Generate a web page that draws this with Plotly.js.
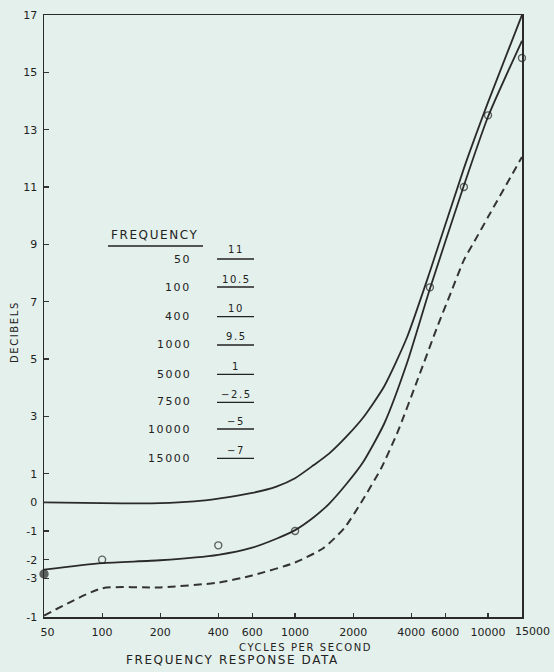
<!DOCTYPE html>
<html><head><meta charset="utf-8">
<script src="https://cdn.plot.ly/plotly-3.0.1.min.js"></script>
<style>
html,body{margin:0;padding:0;background:#e4f0eb;}
#chart{width:554px;height:672px;}
.annotation-text{letter-spacing:1.6px;}
.annotation[data-index="0"] .annotation-text{letter-spacing:0;}
</style></head><body><div id="chart"></div>
<script>
// ---- data ----
const freqUpper = [50,100,200,300,400,600,800,1000,1250,1500,1850,2250,2900,3800,5000,7500,10000,15000];
const dbUpper   = [0.0,-0.03,-0.03,0.03,0.13,0.33,0.55,0.84,1.3,1.7,2.3,2.95,4.05,5.75,8.05,11.65,13.95,17.0];

const freqLower = [50,100,200,400,600,800,1000,1250,1500,1850,2250,2900,3800,5000,7500,10000,15000];
const dbLower   = [-2.35,-2.12,-2.02,-1.83,-1.58,-1.27,-0.97,-0.52,-0.05,0.65,1.4,2.75,4.85,7.45,11.05,13.45,16.1];

const freqDashed = [50,100,200,400,600,1000,1400,1800,2250,2800,3400,4300,5500,6400,7500,8500,10000,15000];
const dbDashed   = [-3.95,-3.0,-2.97,-2.8,-2.55,-2.1,-1.6,-0.9,0.1,1.2,2.45,4.25,6.18,7.29,8.45,9.1,9.95,12.05];

const freqPoints = [50,100,400,1000,5000,7500,10000,15000];
const dbPoints   = [-2.5,-2.0,-1.5,-1.0,7.5,11.0,13.5,15.5];

const tableFreqLabels = ['50','100','400','1000','5000','7500','10000','15000'];
const tableDbLabels   = ['11','10.5','10','9.5','1','\u22122.5','\u22125','\u22127'];

const xTickVals = [50,100,200,400,600,1000,2000,4000,6000,10000,15000];
const xTickText = ['50','100','200','400','600','1000','2000','4000','6000','10000','15000'];
const yTickVals = [17,15,13,11,9,7,5,3,1,0,-1,-2,-2.66,-4];
const yTickText = ['17','15','13','11','9','7','5','3','1','0','-1','-2','-3','-1'];

// ---- layout helpers (pixel -> paper) ----
const L=44, R=522, T=15, B=617;
const PX = v => (v-L)/(R-L);
const PY = v => (B-v)/(B-T);
const FONT = 'DejaVu Sans';
const INK = '#222';

const rowFreqY = [259,287.3,316,344,375,401.7,429,458.3];
const rowValY  = [250,279,308,336.7,366.7,394,421.7,450];
const rowLineY = [259,287,316.7,345,374.3,402.3,429,458.3];

const lastTick = xTickText.length-1;
const annotations = [];
const shapes = [];
// last x tick label sits right of its tick in the reference: drawn as an annotation (index 0)
annotations.push({text:xTickText[lastTick], xref:'paper', yref:'paper', x:PX(532.5), y:PY(631), xanchor:'center', yanchor:'middle', showarrow:false, font:{family:FONT, size:11, color:INK}});
tableFreqLabels.forEach((t,i)=>{
  annotations.push({text:t, xref:'paper', yref:'paper', x:PX(193), y:PY(rowFreqY[i]), xanchor:'right', yanchor:'middle', showarrow:false, font:{family:FONT, size:11, color:INK}});
  annotations.push({text:tableDbLabels[i], xref:'paper', yref:'paper', x:PX(236), y:PY(rowValY[i]), xanchor:'center', yanchor:'middle', showarrow:false, font:{family:FONT, size:10, color:INK}});
  shapes.push({type:'line', xref:'paper', yref:'paper', x0:PX(217), x1:PX(254), y0:PY(rowLineY[i]), y1:PY(rowLineY[i]), line:{color:INK, width:1.3}});
});
annotations.push({text:'FREQUENCY', xref:'paper', yref:'paper', x:PX(109), y:PY(235), xanchor:'left', yanchor:'middle', showarrow:false, font:{family:FONT, size:12, color:INK}});
shapes.push({type:'line', xref:'paper', yref:'paper', x0:PX(108), x1:PX(203), y0:PY(246), y1:PY(246), line:{color:INK, width:1.5}});
annotations.push({text:'CYCLES PER SECOND', xref:'paper', yref:'paper', x:PX(305), y:PY(647), xanchor:'center', yanchor:'middle', showarrow:false, font:{family:FONT, size:10, color:INK}});
annotations.push({text:'FREQUENCY RESPONSE DATA', xref:'paper', yref:'paper', x:PX(232), y:PY(660), xanchor:'center', yanchor:'middle', showarrow:false, font:{family:FONT, size:12, color:INK}});
annotations.push({text:'DECIBELS', xref:'paper', yref:'paper', x:PX(15), y:PY(332), xanchor:'center', yanchor:'middle', textangle:-90, showarrow:false, font:{family:FONT, size:10, color:INK}});

const LINE = '#2a2a2a';
const traces = [
  {x:freqUpper, y:dbUpper, mode:'lines', line:{color:LINE, width:1.8, shape:'spline', smoothing:0.6}, cliponaxis:false, hoverinfo:'skip'},
  {x:freqLower, y:dbLower, mode:'lines', line:{color:LINE, width:1.8, shape:'spline', smoothing:0.6}, cliponaxis:false, hoverinfo:'skip'},
  {x:freqDashed, y:dbDashed, mode:'lines', line:{color:'#333', width:2, dash:'8px,5px', shape:'spline', smoothing:0.6}, hoverinfo:'skip'},
  {x:freqPoints, y:dbPoints, mode:'markers', cliponaxis:false,
   marker:{symbol:freqPoints.map((f,i)=> i===0 ? 'circle' : 'circle-open'), size:freqPoints.map((f,i)=> i===0 ? 8 : 7), color:INK, line:{color:INK, width:1.4}}}
];

const axisCommon = {showline:true, linecolor:'#2a2a2a', linewidth:1.5, mirror:true, showgrid:false, zeroline:false, ticks:'inside', tickcolor:'#333', tickwidth:1.2, tickfont:{family:FONT, size:11, color:INK}};

const layout = {
  width:554, height:672,
  margin:{l:L, r:554-R, t:T, b:672-B, pad:0},
  paper_bgcolor:'#e4f0eb', plot_bgcolor:'#e4f0eb',
  showlegend:false,
  xaxis: Object.assign({}, axisCommon, {type:'log', range:[Math.log10(49.98), Math.log10(15005)], tickmode:'array', tickvals:xTickVals,
    ticktext:xTickText.map((t,i)=> i===0 ? '\u00a0\u00a0'+t : (i===lastTick ? '' : t)), tickangle:0, ticklen:4, ticklabelstandoff:4}),
  yaxis: Object.assign({}, axisCommon, {range:[-4,17], tickmode:'array', tickvals:yTickVals, ticktext:yTickText, ticklen:5, ticklabelstandoff:3}),
  annotations, shapes
};

Plotly.newPlot('chart', traces, layout, {staticPlot:true, displayModeBar:false});
</script></body></html>
